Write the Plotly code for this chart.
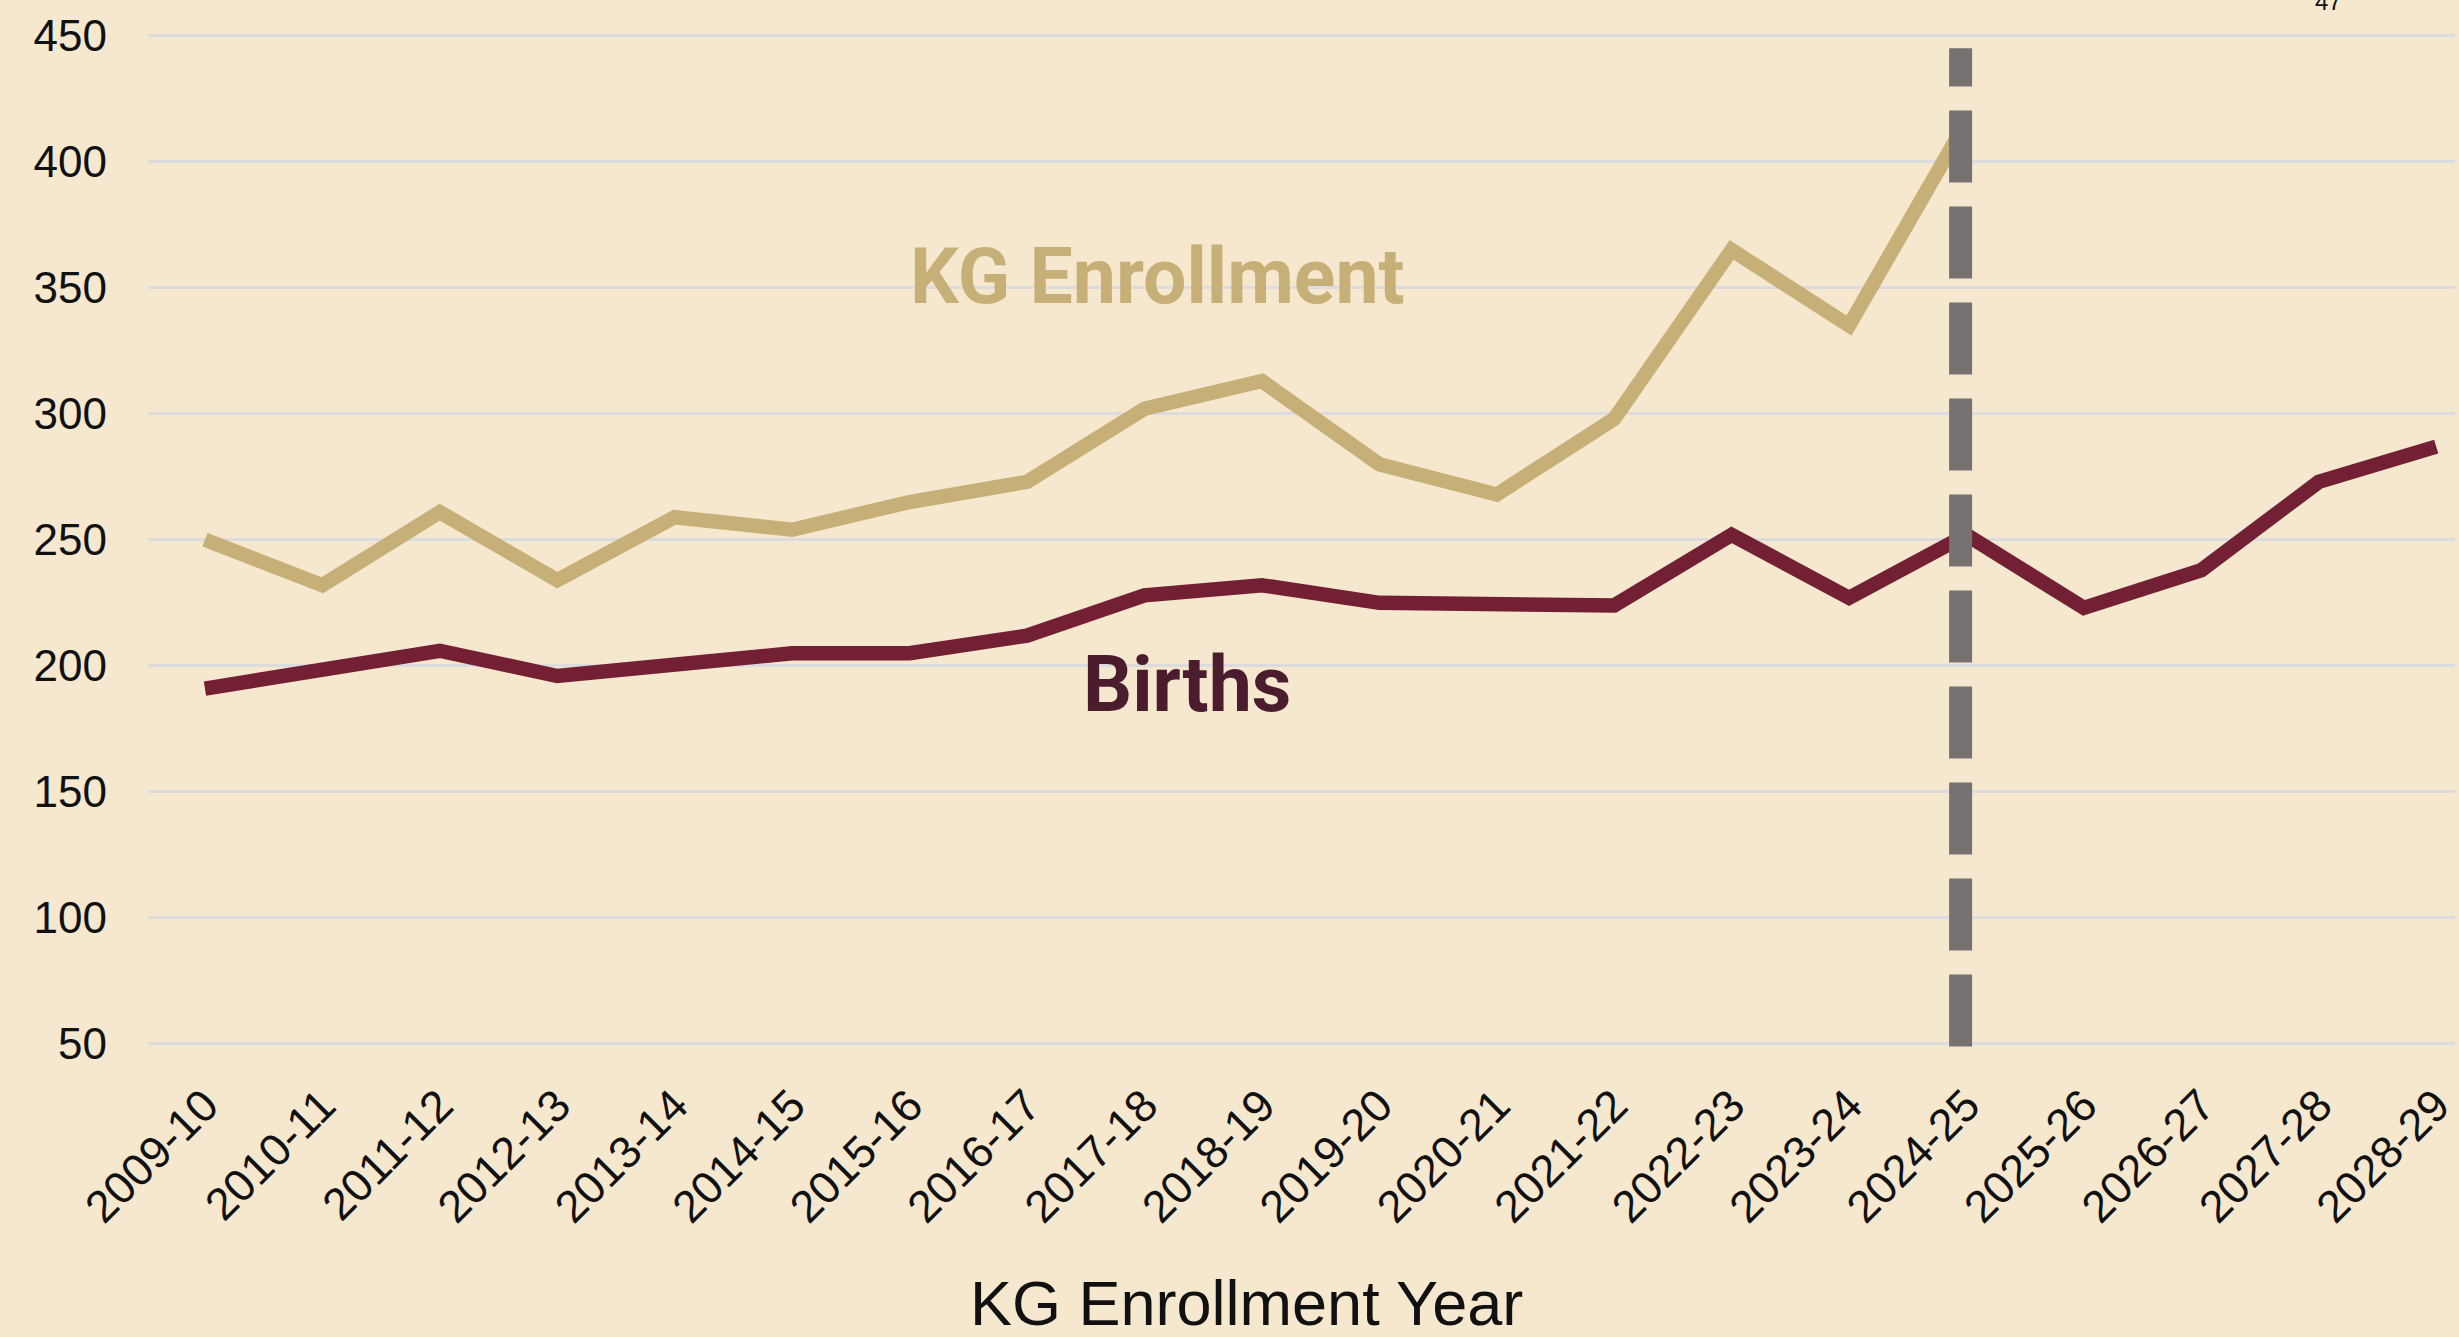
import plotly.graph_objects as go

# school years on the x axis
years = ["2009-10", "2010-11", "2011-12", "2012-13", "2013-14", "2014-15",
         "2015-16", "2016-17", "2017-18", "2018-19", "2019-20", "2020-21",
         "2021-22", "2022-23", "2023-24", "2024-25", "2025-26", "2026-27",
         "2027-28", "2028-29"]

# kindergarten enrollment (actuals, up to 2024-25)
kg_enrollment = [250, 232, 261, 234, 259, 254, 265, 273, 302, 313,
                 280, 268, 298, 365, 335, 416]

# births, shifted to the matching KG year
births = [191, 199, 206, 196, 200, 205, 205, 212, 228, 232,
          225, 225, 224, 252, 227, 252, 223, 238, 273, 287]

y_ticks = [50, 100, 150, 200, 250, 300, 350, 400, 450]

bg = "#F5E8CE"
tan = "#C7B078"
maroon = "#742034"

fig = go.Figure()

fig.add_trace(go.Scatter(
    x=years[:len(kg_enrollment)], y=kg_enrollment,
    mode="lines", name="KG Enrollment",
    line=dict(color=tan, width=14.5),
))
fig.add_trace(go.Scatter(
    x=years, y=births,
    mode="lines", name="Births",
    line=dict(color=maroon, width=14.5),
))

# projection divider
fig.add_shape(
    type="line", xref="x", yref="y",
    x0=14.95, x1=14.95, y0=49, y1=445,
    line=dict(color="#767272", width=23, dash="72px,24px"),
)

# series labels
fig.add_annotation(
    x=0.4375, y=0.748, xref="paper", yref="paper",
    xanchor="center", yanchor="middle",
    text="<b>KG Enrollment</b>", showarrow=False,
    font=dict(family="Roboto", size=77, color=tan),
)
fig.add_annotation(
    x=0.4505, y=0.3625, xref="paper", yref="paper",
    xanchor="center", yanchor="middle",
    text="<b>Births</b>", showarrow=False,
    font=dict(family="Roboto", size=77, color="#4B1C2D"),
)

# x axis title
fig.add_annotation(
    x=0.476, y=-0.221, xref="paper", yref="paper",
    xanchor="center", yanchor="middle",
    text="KG Enrollment Year", showarrow=False,
    font=dict(family="Liberation Sans, Arial", size=63, color="#111111"),
)

# page number cut off at the top
fig.add_annotation(
    x=0.945, y=0.9935, xref="paper", yref="paper",
    xanchor="center", yanchor="bottom",
    text="47", showarrow=False,
    font=dict(family="Liberation Sans, Arial", size=24, color="#111111"),
)

fig.update_layout(
    width=2459, height=1337,
    margin=dict(l=148, r=0, t=10, b=268),
    paper_bgcolor=bg, plot_bgcolor=bg,
    showlegend=False,
    font=dict(family="Liberation Sans, Arial", color="#111111"),
)

fig.update_xaxes(
    type="category",
    range=[-0.485, 19.16],
    tickangle=-45,
    tickfont=dict(size=45),
    showgrid=False, zeroline=False, showline=False,
    ticks="", ticklabelstandoff=0,
)
fig.update_yaxes(
    range=[40.08, 460.2],
    tickvals=y_ticks,
    tickfont=dict(size=44),
    showgrid=True, gridcolor="#DCDCDF", gridwidth=3,
    zeroline=False, showline=False,
    ticks="", ticklabelstandoff=40,
)

fig.write_html("out.html", config={"displayModeBar": False},
               post_script="document.body.style.margin = '0';")
